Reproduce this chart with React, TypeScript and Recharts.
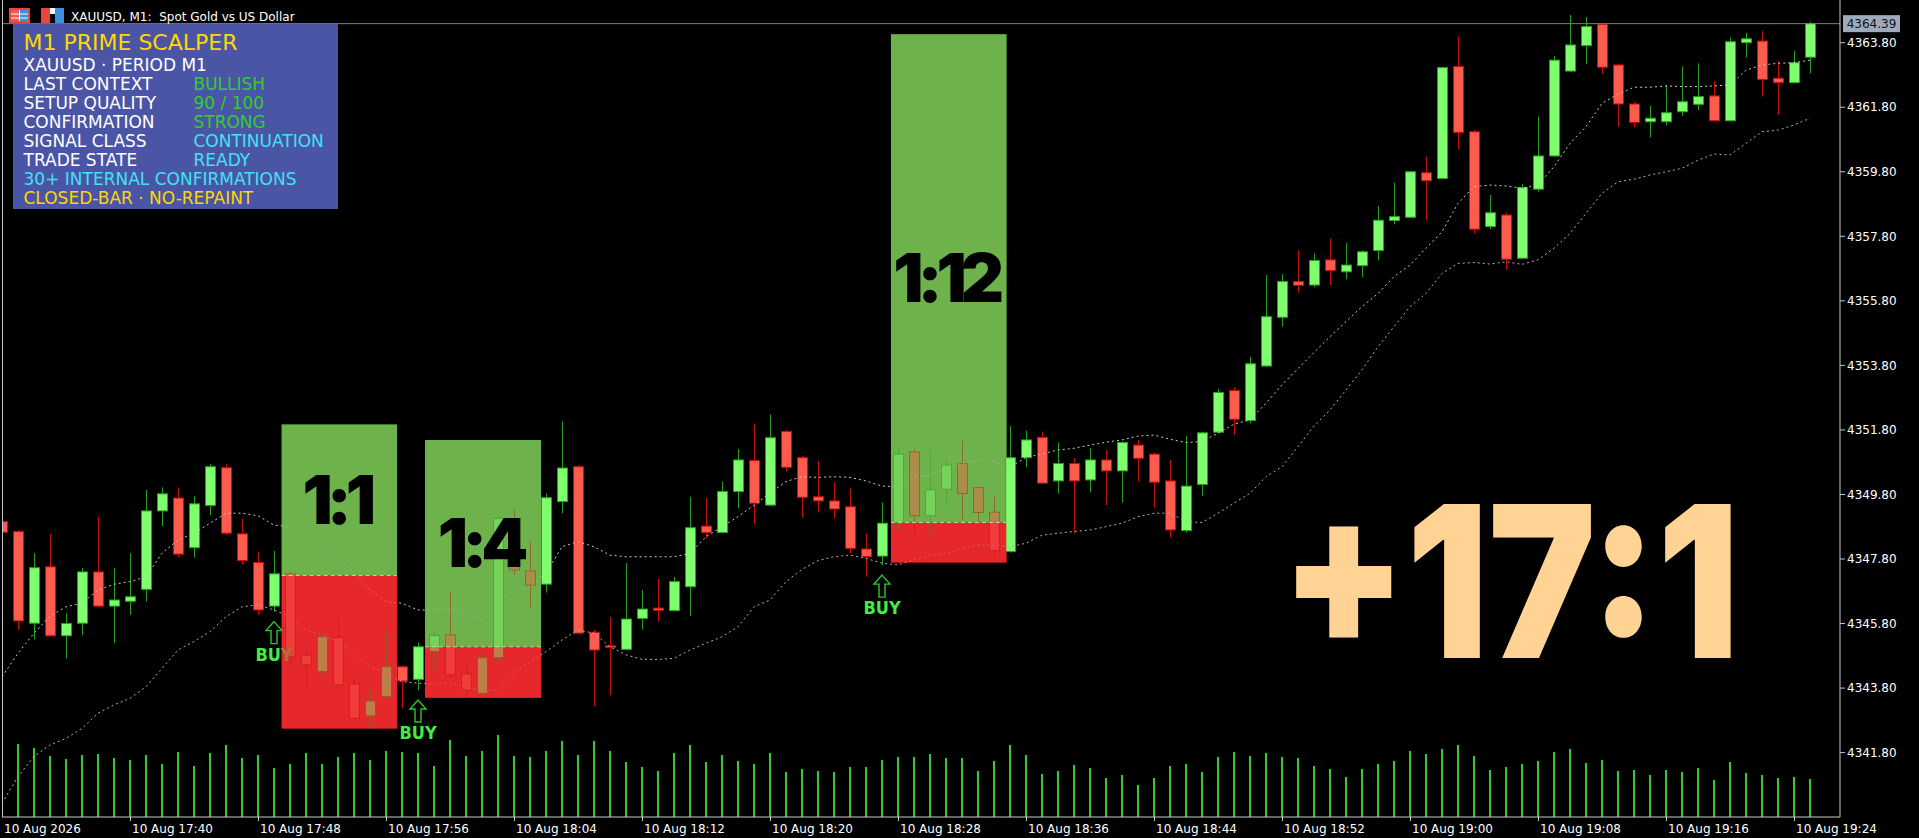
import React from "react";
import {
  Bar,
  ComposedChart,
  Line,
  ReferenceArea,
  ReferenceDot,
  ReferenceLine,
  XAxis,
  YAxis,
} from "recharts";

// ---- data (XAUUSD M1) ----
const times = [
  "17:32", "17:33", "17:34", "17:35", "17:36", "17:37", "17:38", "17:39",
  "17:40", "17:41", "17:42", "17:43", "17:44", "17:45", "17:46", "17:47",
  "17:48", "17:49", "17:50", "17:51", "17:52", "17:53", "17:54", "17:55",
  "17:56", "17:57", "17:58", "17:59", "18:00", "18:01", "18:02", "18:03",
  "18:04", "18:05", "18:06", "18:07", "18:08", "18:09", "18:10", "18:11",
  "18:12", "18:13", "18:14", "18:15", "18:16", "18:17", "18:18", "18:19",
  "18:20", "18:21", "18:22", "18:23", "18:24", "18:25", "18:26", "18:27",
  "18:28", "18:29", "18:30", "18:31", "18:32", "18:33", "18:34", "18:35",
  "18:36", "18:37", "18:38", "18:39", "18:40", "18:41", "18:42", "18:43",
  "18:44", "18:45", "18:46", "18:47", "18:48", "18:49", "18:50", "18:51",
  "18:52", "18:53", "18:54", "18:55", "18:56", "18:57", "18:58", "18:59",
  "19:00", "19:01", "19:02", "19:03", "19:04", "19:05", "19:06", "19:07",
  "19:08", "19:09", "19:10", "19:11", "19:12", "19:13", "19:14", "19:15",
  "19:16", "19:17", "19:18", "19:19", "19:20", "19:21", "19:22", "19:23",
  "19:24", "19:25",
];

const opens = [
  4348.96, 4348.65, 4345.81, 4347.56, 4345.42, 4345.81, 4347.4, 4346.34, 4346.49, 4346.86,
  4349.29, 4349.69, 4348.15, 4349.46, 4350.63, 4348.58, 4347.69, 4346.34, 4347.34, 4344.82,
  4344.31, 4345.37, 4343.93, 4342.94, 4343.53, 4344.46, 4344.07, 4344.93, 4345.45, 4344.24,
  4343.64, 4344.74, 4349.05, 4347.43, 4347.02, 4349.58, 4350.66, 4345.53, 4345.11, 4345.0,
  4345.96, 4346.28, 4346.2, 4346.94, 4348.82, 4348.62, 4349.89, 4350.85, 4349.47, 4351.75,
  4350.94, 4349.73, 4349.6, 4349.42, 4348.11, 4347.89, 4348.93, 4351.12, 4349.14, 4349.96,
  4350.76, 4350.01, 4349.25, 4348.03, 4350.94, 4351.57, 4350.22, 4350.76, 4350.25, 4350.87,
  4350.53, 4351.33, 4351.05, 4350.22, 4348.68, 4350.11, 4351.73, 4353.02, 4352.09, 4353.78,
  4355.29, 4356.4, 4356.29, 4357.07, 4356.7, 4356.89, 4357.36, 4358.29, 4358.39, 4359.77,
  4359.59, 4363.06, 4361.04, 4358.1, 4358.46, 4357.12, 4359.26, 4360.29, 4362.92, 4363.71,
  4364.37, 4363.11, 4361.9, 4361.35, 4361.35, 4361.66, 4361.89, 4362.15, 4361.38, 4363.8,
  4363.85, 4362.7, 4362.56, 4363.35,
];

const highs = [
  4349.05, 4348.7, 4347.98, 4348.58, 4346.12, 4347.53, 4349.11, 4347.53, 4347.98, 4349.94,
  4350.02, 4350.02, 4349.75, 4350.74, 4350.74, 4349.05, 4348.03, 4348.05, 4347.4, 4345.0,
  4345.5, 4345.94, 4344.15, 4343.78, 4345.58, 4344.5, 4345.21, 4345.53, 4346.79, 4344.65,
  4344.88, 4349.15, 4349.32, 4348.34, 4349.82, 4352.06, 4350.71, 4345.6, 4346.01, 4347.67,
  4346.84, 4347.18, 4347.25, 4349.73, 4349.7, 4350.2, 4351.21, 4352.0, 4352.28, 4351.8,
  4351.0, 4350.84, 4350.17, 4349.99, 4348.6, 4349.55, 4351.28, 4351.2, 4351.13, 4350.87,
  4351.46, 4350.05, 4349.73, 4351.92, 4351.78, 4351.75, 4351.41, 4350.92, 4351.23, 4351.18,
  4351.44, 4351.49, 4351.1, 4350.87, 4351.61, 4351.75, 4353.07, 4353.12, 4354.07, 4356.6,
  4356.63, 4357.36, 4357.27, 4357.73, 4357.6, 4357.37, 4358.74, 4359.46, 4359.82, 4360.27,
  4363.06, 4363.99, 4361.1, 4359.08, 4358.53, 4359.42, 4361.51, 4363.39, 4364.66, 4364.59,
  4364.4, 4363.15, 4361.97, 4361.84, 4362.49, 4363.06, 4363.16, 4362.61, 4363.96, 4364.11,
  4364.16, 4363.23, 4363.55, 4364.45,
];

const lows = [
  4348.55, 4345.6, 4345.31, 4345.4, 4344.72, 4345.44, 4346.32, 4345.19, 4346.07, 4346.48,
  4348.82, 4347.85, 4347.84, 4349.16, 4348.55, 4347.62, 4346.07, 4346.17, 4344.46, 4343.74,
  4344.13, 4343.87, 4342.68, 4342.55, 4343.5, 4343.17, 4343.74, 4344.38, 4344.1, 4343.53,
  4343.6, 4344.6, 4347.3, 4346.29, 4346.76, 4349.22, 4345.48, 4343.23, 4343.58, 4344.98,
  4345.62, 4345.86, 4346.18, 4346.04, 4348.44, 4348.6, 4349.37, 4348.87, 4349.45, 4350.51,
  4349.09, 4349.24, 4349.06, 4347.98, 4347.25, 4347.61, 4348.7, 4348.49, 4348.54, 4349.44,
  4349.01, 4348.91, 4347.87, 4348.0, 4350.64, 4350.13, 4349.83, 4348.6, 4349.86, 4349.47,
  4349.55, 4350.2, 4349.39, 4348.47, 4348.62, 4349.76, 4351.7, 4351.64, 4352.0, 4353.76,
  4355.0, 4356.05, 4356.22, 4356.29, 4356.47, 4356.53, 4357.05, 4358.17, 4358.37, 4358.29,
  4359.57, 4360.5, 4357.89, 4358.02, 4356.76, 4357.1, 4359.18, 4360.27, 4362.9, 4363.13,
  4362.83, 4361.2, 4361.18, 4360.87, 4361.23, 4361.54, 4361.71, 4361.36, 4361.36, 4363.34,
  4362.13, 4361.56, 4362.54, 4362.85,
];

const closes = [
  4348.63, 4345.88, 4347.53, 4345.42, 4345.8, 4347.4, 4346.34, 4346.53, 4346.63, 4349.29,
  4349.82, 4347.95, 4349.51, 4350.66, 4348.6, 4347.75, 4346.22, 4347.34, 4344.77, 4344.52,
  4345.39, 4343.9, 4342.86, 4343.4, 4344.46, 4344.02, 4345.08, 4345.43, 4344.21, 4343.74,
  4344.74, 4349.06, 4347.46, 4346.99, 4349.7, 4350.62, 4345.5, 4344.98, 4345.06, 4345.94,
  4346.25, 4346.21, 4347.1, 4348.77, 4348.62, 4349.89, 4350.87, 4349.53, 4351.56, 4350.64,
  4349.71, 4349.6, 4349.35, 4348.13, 4347.87, 4348.91, 4351.05, 4349.14, 4349.94, 4350.71,
  4349.83, 4349.24, 4348.06, 4350.94, 4351.49, 4350.15, 4350.76, 4350.22, 4350.87, 4350.53,
  4351.41, 4350.92, 4350.18, 4348.7, 4350.06, 4351.71, 4352.96, 4352.13, 4353.85, 4355.31,
  4356.4, 4356.28, 4357.05, 4356.74, 4356.91, 4357.32, 4358.3, 4358.41, 4359.8, 4359.52,
  4363.03, 4361.02, 4358.02, 4358.53, 4357.09, 4359.31, 4360.29, 4363.26, 4363.73, 4364.3,
  4363.04, 4361.9, 4361.33, 4361.46, 4361.63, 4361.97, 4362.13, 4361.38, 4363.83, 4363.92,
  4362.66, 4362.56, 4363.18, 4364.39,
];

const volumes = [
  60, 73, 69, 61, 58, 62, 63, 59, 57, 62,
  53, 65, 51, 64, 72, 59, 62, 49, 53, 64,
  53, 60, 64, 57, 66, 65, 64, 51, 77, 61,
  66, 82, 61, 60, 66, 76, 62, 76, 66, 55,
  50, 46, 64, 72, 55, 62, 56, 53, 64, 45,
  48, 46, 45, 50, 50, 57, 60, 60, 63, 59,
  59, 46, 56, 72, 62, 43, 46, 52, 49, 39,
  42, 32, 39, 51, 53, 45, 60, 65, 61, 64,
  60, 59, 51, 48, 40, 48, 53, 56, 66, 63,
  68, 72, 61, 47, 50, 53, 56, 65, 68, 54,
  57, 46, 47, 42, 47, 45, 49, 37, 55, 44,
  42, 39, 40, 38,
];

const upperBand = [
  4344.15, 4344.88, 4345.5, 4346.03, 4346.32, 4346.43, 4346.84, 4347.02, 4347.1, 4347.25,
  4347.98, 4348.39, 4348.6, 4348.91, 4349.22, 4349.22, 4349.14, 4348.85, 4348.8, 4348.49,
  4348.18, 4347.87, 4347.36, 4346.84, 4346.48, 4346.43, 4346.22, 4346.22, 4346.27, 4346.07,
  4345.91, 4346.43, 4346.84, 4346.94, 4347.36, 4348.18, 4348.34, 4348.18, 4347.92, 4347.87,
  4347.87, 4347.87, 4347.87, 4347.97, 4348.49, 4348.8, 4349.11, 4349.47, 4349.84, 4350.2,
  4350.35, 4350.33, 4350.35, 4350.33, 4350.22, 4350.06, 4350.04, 4350.35, 4350.4, 4350.61,
  4350.77, 4350.85, 4350.82, 4350.64, 4350.95, 4351.05, 4351.18, 4351.23, 4351.33, 4351.42,
  4351.49, 4351.61, 4351.64, 4351.51, 4351.41, 4351.44, 4351.7, 4351.98, 4352.11, 4352.63,
  4353.2, 4353.7, 4354.2, 4354.69, 4355.16, 4355.62, 4356.03, 4356.55, 4356.91, 4357.43,
  4357.94, 4358.82, 4359.34, 4359.39, 4359.36, 4359.29, 4359.39, 4359.96, 4360.68, 4361.2,
  4361.92, 4362.21, 4362.42, 4362.42, 4362.46, 4362.44, 4362.44, 4362.46, 4362.49, 4362.95,
  4363.11, 4363.16, 4363.18, 4363.26,
];

const lowerBand = [
  4340.23, 4341.06, 4341.68, 4342.04, 4342.24, 4342.55, 4343.02, 4343.28, 4343.48, 4343.84,
  4344.41, 4344.98, 4345.24, 4345.55, 4346.01, 4346.32, 4346.38, 4346.22, 4346.01, 4345.6,
  4345.45, 4345.24, 4344.88, 4344.46, 4344.26, 4344.0, 4343.95, 4343.93, 4343.97, 4343.82,
  4343.72, 4343.74, 4344.26, 4344.62, 4344.93, 4345.29, 4345.6, 4345.5, 4345.08, 4344.83,
  4344.69, 4344.69, 4344.72, 4344.98, 4345.19, 4345.39, 4345.7, 4346.32, 4346.53, 4347.1,
  4347.48, 4347.75, 4347.87, 4347.92, 4347.82, 4347.67, 4347.62, 4347.77, 4347.92, 4347.97,
  4348.13, 4348.23, 4348.23, 4348.18, 4348.29, 4348.54, 4348.6, 4348.65, 4348.7, 4348.8,
  4348.91, 4349.11, 4349.22, 4349.22, 4348.96, 4348.93, 4349.22, 4349.53, 4349.84, 4350.35,
  4350.66, 4351.28, 4351.92, 4352.42, 4353.04, 4353.66, 4354.38, 4355.0, 4355.62, 4356.03,
  4356.65, 4356.96, 4356.99, 4356.94, 4357.01, 4356.93, 4357.07, 4357.43, 4357.89, 4358.51,
  4359.13, 4359.49, 4359.57, 4359.7, 4359.8, 4359.91, 4360.16, 4360.35, 4360.32, 4360.68,
  4361.04, 4361.09, 4361.25, 4361.46,
];

// bar index of each BUY signal
const buySignals = [17, 26, 55];

// trade boxes: bar range, entry / target / stop prices, reward:risk text
const zones = [
  { from: 17.48, to: 24.69, entry: 4347.29, target: 4351.97, stop: 4342.55, label: "1:1" },
  { from: 26.44, to: 33.69, entry: 4345.08, target: 4351.49, stop: 4343.5, label: "1:4" },
  { from: 55.56, to: 62.78, entry: 4348.93, target: 4364.06, stop: 4347.69, label: "1:12" },
];

const priceTicks = [
  4341.8, 4343.8, 4345.8, 4347.8, 4349.8, 4351.8, 4353.8, 4355.8, 4357.8, 4359.8, 4361.8, 4363.8,
];
const timeTicks = [0, 8, 16, 24, 32, 40, 48, 56, 64, 72, 80, 88, 96, 104, 112];
const dayLabel = "10 Aug";
const firstLabel = "10 Aug 2026";
const lastPrice = 4364.39;
const totalRatio = "+17:1";

const panelTitle = "M1 PRIME SCALPER";
const panelSymbol = "XAUUSD · PERIOD M1";
const panelRows = [
  { name: "LAST CONTEXT", value: "BULLISH", color: "#32cd32" },
  { name: "SETUP QUALITY", value: "90 / 100", color: "#32cd32" },
  { name: "CONFIRMATION", value: "STRONG", color: "#32cd32" },
  { name: "SIGNAL CLASS", value: "CONTINUATION", color: "#3fe3f2" },
  { name: "TRADE STATE", value: "READY", color: "#3fe3f2" },
];
const panelFooter = [
  { text: "30+ INTERNAL CONFIRMATIONS", color: "#3fe3f2" },
  { text: "CLOSED-BAR · NO-REPAINT", color: "#ffd700" },
];

const rows = times.map((t, i) => ({
  i,
  t,
  o: opens[i],
  h: highs[i],
  l: lows[i],
  c: closes[i],
  hl: [lows[i], highs[i]],
  vol: volumes[i],
  up: upperBand[i],
  lo: lowerBand[i],
}));

// ---- look ----
const W = 1919;
const H = 838;
const MT_FONT = "'DejaVu Sans', sans-serif";
const BIG_FONT = "Inter, 'DejaVu Sans', sans-serif";
const BAR_DOMAIN: [number, number] = [0, 114.875];
const PRICE_DOMAIN: [number, number] = [4339.805, 4365.123];

const BULL_FILL = "#80ff6e";
const BULL_EDGE = "#22a01e";
const BEAR_FILL = "#ff5a4e";
const BEAR_EDGE = "#c80a0a";
const TP_COLOR = "#6db24a";
const SL_COLOR = "#e6282d";

function Candle(props: any) {
  const { x, y, width, height, payload } = props;
  if (!payload || x == null) return null;
  const { o, h, l, c } = payload;
  const top = Math.min(y, y + height);
  const span = Math.abs(height);
  const k = h - l > 0 ? span / (h - l) : 0;
  const cx = Math.round(x + width / 2);
  const yo = top + (h - o) * k;
  const yc = top + (h - c) * k;
  const up = c >= o;
  const bodyTop = Math.min(yo, yc);
  const bodyH = Math.max(Math.abs(yc - yo), 1);
  return (
    <g>
      <line
        x1={cx + 0.5}
        x2={cx + 0.5}
        y1={top}
        y2={top + span}
        stroke={up ? BULL_EDGE : BEAR_EDGE}
        strokeWidth={1}
      />
      <rect
        x={cx - 4.5}
        y={bodyTop}
        width={10}
        height={bodyH}
        fill={up ? BULL_FILL : BEAR_FILL}
        stroke={up ? BULL_EDGE : BEAR_EDGE}
        strokeWidth={1}
      />
    </g>
  );
}

function BuyMark(props: any) {
  const { cx, cy } = props;
  if (cx == null) return null;
  const t = cy + 10;
  const pts = [
    [cx, t],
    [cx + 8, t + 9],
    [cx + 3, t + 9],
    [cx + 3, t + 22],
    [cx - 3, t + 22],
    [cx - 3, t + 9],
    [cx - 8, t + 9],
  ]
    .map((p) => p.join(","))
    .join(" ");
  return (
    <g>
      <polygon points={pts} fill="none" stroke="#2fc42f" strokeWidth={1.4} />
      <text
        x={cx}
        y={cy + 49}
        textAnchor="middle"
        fontFamily="'DejaVu Sans Condensed', 'DejaVu Sans', sans-serif"
        fontWeight="bold"
        fontSize={18}
        fill="#44ec44"
      >
        BUY
      </text>
    </g>
  );
}

function ZoneText(props: any) {
  const { viewBox, text } = props;
  if (!viewBox) return null;
  const { x, y, width, height } = viewBox;
  return (
    <text
      x={x + width / 2 - 3}
      y={y + height / 2 + 24}
      textAnchor="middle"
      fontFamily={BIG_FONT}
      fontWeight={900}
      fontSize={67}
      letterSpacing={-6}
      fill="#000"
    >
      {text}
    </text>
  );
}

function PriceTag(props: any) {
  const { viewBox, value } = props;
  if (!viewBox) return null;
  const { x, y, width } = viewBox;
  const left = x + width + 3;
  return (
    <g>
      <rect x={left} y={y - 8.5} width={57} height={17} fill="#9eabbd" />
      <text
        x={left + 28.5}
        y={y + 4.5}
        textAnchor="middle"
        fontFamily={MT_FONT}
        fontSize={12}
        fill="#111"
      >
        {value.toFixed(2)}
      </text>
    </g>
  );
}

function TimeTick(props: any) {
  const { x, y, payload } = props;
  const i = payload.value;
  const text = i === 0 ? firstLabel : `${dayLabel} ${times[i]}`;
  return (
    <g>
      {i !== 0 && (
        <line x1={x + 0.5} x2={x + 0.5} y1={y} y2={y + 4} stroke="#c8c8c8" />
      )}
      <text x={x + 2} y={y + 16} fontFamily={MT_FONT} fontSize={12} fill="#fff">
        {text}
      </text>
    </g>
  );
}

// translucent copy of the trade boxes drawn over the candles, with the ratio text
function ZoneOverlay() {
  return (
    <div style={{ position: "absolute", left: 0, top: 0, pointerEvents: "none" }}>
      <ComposedChart
        width={W}
        height={H}
        data={rows}
        margin={{ top: 0, right: 79, bottom: 21, left: 2 }}
      >
        <XAxis
          xAxisId="c"
          type="number"
          dataKey="i"
          domain={BAR_DOMAIN}
          allowDataOverflow
          hide
        />
        <YAxis yAxisId="p" domain={PRICE_DOMAIN} allowDataOverflow hide />
        {zones.map((z) => (
          <ReferenceArea
            key={`sl-${z.label}`}
            xAxisId="c"
            yAxisId="p"
            x1={z.from}
            x2={z.to}
            y1={z.stop}
            y2={z.entry}
            fill={SL_COLOR}
            fillOpacity={0.6}
            stroke="none"
          />
        ))}
        {zones.map((z) => (
          <ReferenceArea
            key={`tp-${z.label}`}
            xAxisId="c"
            yAxisId="p"
            x1={z.from}
            x2={z.to}
            y1={z.entry}
            y2={z.target}
            fill={TP_COLOR}
            fillOpacity={0.57}
            stroke="none"
            label={<ZoneText text={z.label} />}
          />
        ))}
        {zones.map((z) => (
          <ReferenceLine
            key={`entry-${z.label}`}
            xAxisId="c"
            yAxisId="p"
            segment={[
              { x: z.from, y: z.entry },
              { x: z.to, y: z.entry },
            ]}
            stroke="#b8d8b0"
            strokeDasharray="4 3"
          />
        ))}
      </ComposedChart>
    </div>
  );
}

function InfoPanel() {
  return (
    <svg
      width={W}
      height={H}
      style={{ position: "absolute", left: 0, top: 0, pointerEvents: "none" }}
    >
      {/* title bar icons */}
      <rect x={9} y={8} width={21} height={15} fill="#e8453c" />
      <rect x={11} y={10} width={17} height={11} fill="#fff" />
      <rect x={11} y={10} width={8} height={11} fill="#ef5a50" />
      <rect x={20} y={10} width={8} height={11} fill="#3d8fe0" />
      <line x1={11} x2={28} y1={14} y2={14} stroke="#fff" />
      <line x1={11} x2={28} y1={18} y2={18} stroke="#fff" />
      <rect x={41} y={8} width={9} height={15} fill="#e8453c" />
      <rect x={50} y={8} width={5} height={6} fill="#fff" />
      <rect x={55} y={8} width={9} height={15} fill="#3d8fe0" />
      <text x={71} y={21} fontFamily={MT_FONT} fontSize={12} fill="#fff" style={{ whiteSpace: "pre" }}>
        {"XAUUSD, M1:  Spot Gold vs US Dollar"}
      </text>

      {/* left frame line */}
      <line x1={2.5} x2={2.5} y1={0} y2={817} stroke="#c8c8c8" />

      {/* indicator panel */}
      <rect x={13} y={24} width={325} height={185} fill="#4b55a5" />
      <text x={23.5} y={50} fontFamily={MT_FONT} fontSize={22} fill="#ffd700">
        {panelTitle}
      </text>
      <text x={23.5} y={70.5} fontFamily={MT_FONT} fontSize={17} fill="#fff">
        {panelSymbol}
      </text>
      {panelRows.map((r, k) => (
        <g key={r.name}>
          <text x={23.5} y={89.5 + k * 19} fontFamily={MT_FONT} fontSize={17} fill="#fff">
            {r.name}
          </text>
          <text x={193.5} y={89.5 + k * 19} fontFamily={MT_FONT} fontSize={17} fill={r.color}>
            {r.value}
          </text>
        </g>
      ))}
      {panelFooter.map((f, k) => (
        <text
          key={f.text}
          x={23.5}
          y={184.5 + k * 19}
          fontFamily={MT_FONT}
          fontSize={17}
          fill={f.color}
        >
          {f.text}
        </text>
      ))}

      {/* overall reward:risk */}
      <text
        x={1281}
        y={658}
        fontFamily={BIG_FONT}
        fontWeight={900}
        fontSize={211}
        fill="#ffd394"
        textLength={458}
        lengthAdjust="spacingAndGlyphs"
      >
        {totalRatio}
      </text>
    </svg>
  );
}

export default function App() {
  return (
    <div
      style={{
        position: "absolute",
        left: 0,
        top: 0,
        width: W,
        height: H,
        background: "#000",
        overflow: "hidden",
      }}
    >
      <ComposedChart
        width={W}
        height={H}
        data={rows}
        margin={{ top: 0, right: 0, bottom: 0, left: 2 }}
      >
        <XAxis
          xAxisId="c"
          type="number"
          dataKey="i"
          domain={BAR_DOMAIN}
          allowDataOverflow
          ticks={timeTicks}
          interval={0}
          height={21}
          axisLine={{ stroke: "#c8c8c8" }}
          tickLine={false}
          tickSize={0}
          tickMargin={0}
          tick={<TimeTick />}
        />
        <XAxis
          xAxisId="v"
          type="number"
          dataKey="i"
          domain={BAR_DOMAIN}
          allowDataOverflow
          hide
        />
        <YAxis
          yAxisId="p"
          orientation="right"
          width={79}
          domain={PRICE_DOMAIN}
          allowDataOverflow
          ticks={priceTicks}
          interval={0}
          tickFormatter={(v: number) => v.toFixed(2)}
          tick={{ fill: "#fff", fontSize: 12, fontFamily: MT_FONT }}
          tickLine={{ stroke: "#c8c8c8" }}
          tickSize={5}
          axisLine={{ stroke: "#c8c8c8" }}
        />
        <YAxis yAxisId="vol" domain={[0, 817]} hide />

        {zones.map((z) => (
          <ReferenceArea
            key={`sl-${z.label}`}
            xAxisId="c"
            yAxisId="p"
            x1={z.from}
            x2={z.to}
            y1={z.stop}
            y2={z.entry}
            fill={SL_COLOR}
            fillOpacity={1}
            stroke="none"
          />
        ))}
        {zones.map((z) => (
          <ReferenceArea
            key={`tp-${z.label}`}
            xAxisId="c"
            yAxisId="p"
            x1={z.from}
            x2={z.to}
            y1={z.entry}
            y2={z.target}
            fill={TP_COLOR}
            fillOpacity={1}
            stroke="none"
          />
        ))}

        <Line
          xAxisId="c"
          yAxisId="p"
          dataKey="up"
          stroke="#c8c8c8"
          strokeWidth={1}
          strokeDasharray="2 3"
          dot={false}
          activeDot={false}
          isAnimationActive={false}
        />
        <Line
          xAxisId="c"
          yAxisId="p"
          dataKey="lo"
          stroke="#c4a6b2"
          strokeWidth={1}
          strokeDasharray="2 3"
          dot={false}
          activeDot={false}
          isAnimationActive={false}
        />
        <Bar
          xAxisId="v"
          yAxisId="vol"
          dataKey="vol"
          barSize={2}
          fill="#32cd32"
          isAnimationActive={false}
        />
        <Bar
          xAxisId="c"
          yAxisId="p"
          dataKey="hl"
          barSize={11}
          shape={(p: any) => <Candle {...p} />}
          isAnimationActive={false}
        />

        {buySignals.map((i) => (
          <ReferenceDot
            key={`buy-${i}`}
            xAxisId="c"
            yAxisId="p"
            x={i}
            y={lows[i]}
            r={1}
            shape={(p: any) => <BuyMark {...p} />}
          />
        ))}

        <ReferenceLine
          xAxisId="c"
          yAxisId="p"
          y={lastPrice}
          stroke="#7c8088"
          label={<PriceTag value={lastPrice} />}
        />
      </ComposedChart>
      <ZoneOverlay />
      <InfoPanel />
    </div>
  );
}
